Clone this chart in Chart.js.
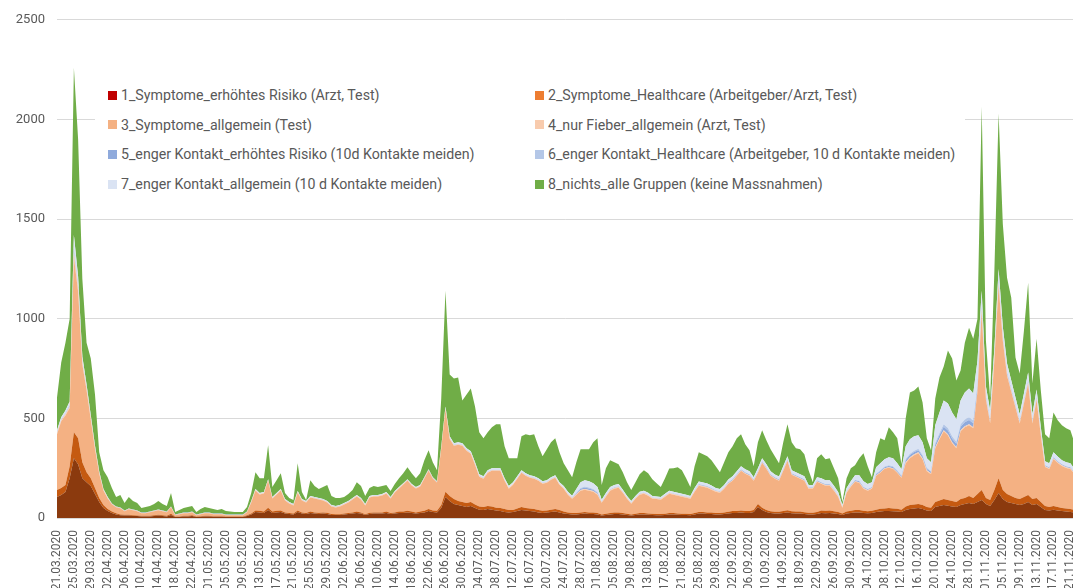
<!DOCTYPE html>
<html lang="de">
<head>
<meta charset="utf-8">
<title>Massnahmen nach Gruppen</title>
<script src="https://cdn.jsdelivr.net/npm/chart.js@4.4.1/dist/chart.umd.min.js"></script>
<style>
    html, body { margin: 0; padding: 0; background: #fff; overflow: hidden; width: 1073px; height: 588px; }
    #wrap { position: absolute; left: 0; top: 0; width: 1093px; height: 600px; }
    #legend {
        position: absolute; left: 95px; top: 76px; width: 870px; height: 126px;
        background: #fff; font-family: Roboto, "Open Sans", sans-serif; font-size: 14.2px; color: #595959;
    }
    .item { position: absolute; display: flex; align-items: center; white-space: nowrap; height: 18px; }
    .swatch { width: 9px; height: 9px; margin-right: 4px; }
</style>
</head>
<body>
<div id="wrap">
    <canvas id="chart" width="1093" height="600"></canvas>
    <div id="legend"></div>
</div>
<script>
// Date ranges of the category axis (gap between 25.04. and 01.05.)
const dateRanges = [['2020-03-21', '2020-04-25'], ['2020-05-01', '2020-11-22']];
const yTicks = [0, 500, 1000, 1500, 2000, 2500];

const seriesNames = [
    '1_Symptome_erhöhtes Risiko (Arzt, Test)',
    '2_Symptome_Healthcare (Arbeitgeber/Arzt, Test)',
    '3_Symptome_allgemein (Test)',
    '4_nur Fieber_allgemein (Arzt, Test)',
    '5_enger Kontakt_erhöhtes Risiko (10d Kontakte meiden)',
    '6_enger Kontakt_Healthcare (Arbeitgeber, 10 d Kontakte meiden)',
    '7_enger Kontakt_allgemein (10 d Kontakte meiden)',
    '8_nichts_alle Gruppen (keine Massnahmen)'
];
const fillColors = ['#8B3A0E', '#C55A11', '#F4B183', '#F8CBAD', '#8FAADC', '#B4C7E7', '#DAE3F3', '#70AD47'];
const legendColors = ['#C00000', '#ED7D31', '#F4B183', '#F8CBAD', '#8FAADC', '#B4C7E7', '#DAE3F3', '#70AD47'];

const s1 = [105,115,130,200,300,270,200,180,160,120,
    80,50,35,25,18,14,12,12,10,10,
    8,8,8,10,12,10,8,15,5,6,
    8,8,10,5,6,8,8,6,6,6,
    5,5,5,5,5,10,18,30,28,25,
    40,25,28,30,22,20,18,30,22,20,
    25,22,20,22,20,15,15,15,18,20,
    22,25,22,15,20,22,22,22,25,20,
    22,25,25,28,25,22,25,28,35,30,
    28,50,105,85,70,65,60,55,60,50,
    42,40,45,42,38,35,30,28,30,35,
    40,38,35,32,28,25,28,30,32,28,
    22,20,18,18,20,22,20,20,18,12,
    15,18,20,20,18,15,12,15,18,18,
    16,15,14,14,15,18,18,16,15,15,
    14,18,22,22,20,20,18,18,20,22,
    25,25,28,25,25,30,55,40,30,25,
    22,22,25,28,24,22,22,20,18,18,
    20,25,24,25,22,20,15,22,25,28,
    28,25,24,25,30,32,35,35,34,32,
    30,40,45,48,50,45,38,35,55,60,
    65,62,58,55,65,70,75,70,80,90,
    70,60,90,125,95,80,75,70,65,70,
    80,65,70,55,40,38,42,38,35,32,
    30,28];

const s2 = [35,35,35,60,130,130,80,50,40,30,
    20,15,10,7,6,4,4,4,4,3,
    3,3,3,4,4,4,3,6,2,2,
    3,3,4,2,3,3,3,3,3,3,
    2,2,2,2,2,4,5,8,8,7,
    12,7,8,8,6,5,5,8,6,5,
    7,6,6,6,6,5,4,4,5,5,
    6,7,6,4,6,6,6,6,7,5,
    6,7,7,8,7,6,7,8,10,8,
    8,15,27,25,25,20,20,20,20,18,
    16,15,15,16,14,15,15,12,10,13,
    15,12,13,13,12,11,10,12,13,12,
    10,8,7,7,8,8,8,8,7,5,
    6,7,8,8,7,6,5,6,7,7,
    6,6,6,6,6,7,7,7,6,6,
    6,7,8,8,8,8,7,7,8,9,
    10,10,10,10,10,10,15,12,10,9,
    9,9,10,11,10,10,10,9,8,8,
    10,13,12,13,12,10,7,10,11,12,
    12,11,10,11,12,14,13,15,14,14,
    12,18,20,20,20,20,17,17,25,28,
    30,28,27,25,30,30,35,30,40,50,
    30,30,50,75,45,40,35,30,30,35,
    35,30,30,25,20,17,18,17,15,16,
    15,12];

const s3 = [280,335,349,292,880,735,490,412,294,196,
    122,73,53,37,30,31,18,28,25,21,
    13,13,18,20,23,20,18,33,7,11,
    13,13,15,7,10,13,13,10,10,10,
    7,7,7,7,7,15,55,100,82,91,
    136,66,82,100,60,48,40,90,60,53,
    71,70,67,60,52,38,34,39,45,53,
    65,76,65,44,77,80,80,85,91,73,
    100,116,136,152,131,120,126,162,193,160,
    142,282,413,287,267,282,282,262,242,199,
    149,142,167,179,185,187,142,107,127,149,
    172,162,154,152,147,136,139,150,157,127,
    115,89,72,92,109,112,109,104,92,60,
    86,112,119,124,102,76,55,76,92,97,
    90,76,75,72,86,97,92,89,86,81,
    77,107,132,127,124,114,107,102,119,141,
    152,177,199,187,177,147,157,225,207,178,
    166,156,202,248,183,175,165,158,121,121,
    152,134,126,124,103,77,30,95,121,142,
    137,111,103,111,170,181,199,202,199,181,
    160,217,235,247,255,230,180,168,270,307,
    340,325,290,270,340,355,355,350,515,900,
    494,385,652,968,750,594,524,454,379,469,
    559,379,494,334,196,191,236,221,211,203,
    201,181];

const s4 = [5,5,6,8,20,15,10,8,6,4,
    3,2,2,1,1,1,1,1,1,1,
    1,1,1,1,1,1,1,1,1,1,
    1,1,1,1,1,1,1,1,1,1,
    1,1,1,1,1,1,2,2,2,2,
    2,2,2,2,2,2,2,2,2,2,
    2,2,2,2,2,2,2,2,2,2,
    2,2,2,2,2,2,2,2,2,2,
    2,2,2,2,2,2,2,2,2,2,
    2,3,5,3,3,3,3,3,3,3,
    3,3,3,3,3,3,3,3,3,3,
    3,3,3,3,3,3,3,3,3,3,
    3,3,3,3,3,3,3,3,3,3,
    3,3,3,3,3,3,3,3,3,3,
    3,3,3,3,3,3,3,3,3,3,
    3,3,3,3,3,3,3,3,3,3,
    3,3,3,3,3,3,3,3,3,3,
    3,3,3,3,3,3,3,3,3,3,
    3,3,3,3,3,3,3,3,3,3,
    3,3,3,3,3,3,3,3,3,3,
    3,5,5,5,5,5,5,5,5,5,
    5,5,5,5,5,5,5,5,5,10,
    6,5,8,12,10,6,6,6,6,6,
    6,6,6,6,4,4,4,4,4,4,
    4,4];

const s5 = [2,2,3,4,12,8,4,3,2,2,
    1,1,1,1,1,1,1,1,1,1,
    1,1,1,1,1,1,1,1,1,1,
    1,1,1,1,1,1,1,1,1,1,
    1,1,1,1,1,1,1,1,1,1,
    1,1,1,1,1,1,1,1,1,1,
    1,1,1,1,1,1,1,1,1,1,
    1,1,1,1,1,1,1,1,1,1,
    1,1,1,1,1,1,1,1,1,1,
    1,1,1,1,1,1,1,1,1,1,
    1,1,1,1,1,1,1,1,1,1,
    1,1,1,1,1,1,1,1,1,1,
    1,2,2,4,7,8,8,7,6,2,
    2,2,2,2,2,1,1,1,2,2,
    2,1,1,1,2,2,2,2,2,2,
    1,2,3,3,3,3,2,2,2,3,
    3,3,3,3,3,2,3,3,3,3,
    3,3,3,3,3,3,3,3,2,2,
    3,3,3,3,3,2,1,2,3,4,
    4,4,4,4,5,5,5,6,6,5,
    5,10,11,11,10,10,7,7,13,16,
    18,19,18,17,18,20,22,20,18,11,
    7,7,6,8,7,7,6,5,5,5,
    6,5,5,4,3,3,4,3,3,3,
    3,2];

const s6 = [2,2,2,3,10,6,3,2,2,1,
    1,1,1,1,1,1,1,1,1,1,
    1,1,1,1,1,1,1,1,1,1,
    1,1,1,1,1,1,1,1,1,1,
    1,1,1,1,1,1,1,1,1,1,
    1,1,1,1,1,1,1,1,1,1,
    1,1,1,1,1,1,1,1,1,1,
    1,1,1,1,1,1,1,1,1,1,
    1,1,1,1,1,1,1,1,1,1,
    1,1,1,1,1,1,1,1,1,1,
    1,1,1,1,1,1,1,1,1,1,
    1,1,1,1,1,1,1,1,1,1,
    1,1,1,3,4,5,5,4,4,1,
    2,2,2,2,1,1,1,1,1,1,
    1,1,1,1,1,1,1,1,1,1,
    1,2,2,2,2,2,2,2,2,2,
    2,2,2,2,2,2,2,2,2,2,
    2,2,2,2,2,2,2,2,2,2,
    2,2,2,2,2,2,1,2,2,2,
    3,3,2,2,3,4,4,4,4,4,
    3,6,7,7,7,6,5,4,9,10,
    12,12,12,11,12,14,14,14,12,7,
    5,5,4,6,5,4,4,4,3,4,
    4,3,4,3,2,2,2,2,2,2,
    2,2];

const s7 = [11,11,15,18,68,46,23,15,11,9,
    6,4,3,1,1,1,1,1,1,1,
    1,1,1,1,1,1,1,1,1,1,
    1,1,1,1,1,1,1,1,1,1,
    1,1,1,1,1,1,3,3,3,3,
    3,3,3,3,3,3,3,3,3,3,
    3,3,3,3,3,3,3,3,3,3,
    3,3,3,3,3,3,3,3,3,3,
    3,3,3,3,3,3,3,3,3,3,
    3,6,8,8,8,8,8,8,8,8,
    8,8,8,8,8,8,8,8,8,8,
    8,8,8,8,8,8,8,8,8,8,
    8,9,9,18,29,32,32,29,25,9,
    11,11,11,11,9,8,8,8,9,9,
    9,8,8,8,9,9,9,9,9,9,
    8,11,13,13,13,13,11,11,11,13,
    15,15,15,15,15,11,15,15,15,15,
    13,13,15,15,15,15,15,15,11,11,
    15,20,20,20,17,16,8,16,20,24,
    28,28,24,24,32,36,36,40,40,36,
    32,64,72,72,68,64,48,44,88,104,
    120,124,120,112,120,136,144,136,120,72,
    48,48,40,56,48,44,40,36,32,36,
    40,32,36,28,20,20,24,23,20,20,
    20,16];

const s8 = [165,275,340,415,840,690,390,210,285,258,
    97,94,100,77,47,62,37,57,42,37,
    22,27,27,32,42,32,27,67,12,17,
    22,27,27,12,22,27,22,22,17,22,
    17,14,12,12,12,22,40,85,75,70,
    170,50,65,80,30,20,20,140,35,5,
    80,55,45,60,80,45,40,35,30,35,
    40,65,60,40,40,45,40,40,35,30,
    35,45,50,60,55,45,60,85,95,75,
    55,242,580,310,325,325,215,270,315,280,
    210,190,190,205,220,220,160,140,120,90,
    170,195,200,210,160,125,155,175,185,150,
    115,108,93,135,165,155,160,205,245,73,
    125,135,115,100,88,70,55,70,88,103,
    98,85,67,50,78,111,118,128,118,83,
    45,110,147,142,137,127,110,85,115,137,
    150,165,160,125,105,55,130,140,120,110,
    92,67,120,160,140,120,125,110,75,15,
    95,120,105,110,88,70,15,50,65,50,
    85,140,90,25,75,125,95,150,130,125,
    25,140,235,230,245,200,100,60,135,175,
    170,265,270,195,150,250,305,275,210,925,
    230,60,390,780,515,430,415,200,205,315,
    450,155,255,185,135,125,200,182,175,170,
    165,130];

// Build dd.mm.yyyy category labels from the date ranges
function buildLabels(ranges) {
    const out = [];
    ranges.forEach(([from, to]) => {
        const d = new Date(from + 'T00:00:00Z');
        const end = new Date(to + 'T00:00:00Z');
        while (d <= end) {
            const dd = String(d.getUTCDate()).padStart(2, '0');
            const mm = String(d.getUTCMonth() + 1).padStart(2, '0');
            out.push(dd + '.' + mm + '.' + d.getUTCFullYear());
            d.setUTCDate(d.getUTCDate() + 1);
        }
    });
    return out;
}

const labels = buildLabels(dateRanges);
const series = [s1, s2, s3, s4, s5, s6, s7, s8];

Chart.defaults.font.family = 'Roboto, "Open Sans", sans-serif';

new Chart(document.getElementById('chart'), {
    type: 'line',
    data: {
        labels: labels,
        datasets: series.map((data, i) => ({
            label: seriesNames[i],
            data: data,
            backgroundColor: fillColors[i],
            borderColor: 'rgba(0,0,0,0)',
            borderWidth: 0,
            pointRadius: 0,
            tension: 0,
            fill: i === 0 ? 'origin' : '-1'
        }))
    },
    options: {
        responsive: false,
        animation: false,
        layout: { padding: { top: 18, left: 0, right: 0, bottom: 0 } },
        plugins: {
            legend: { display: false },
            tooltip: { enabled: false }
        },
        scales: {
            x: {
                grid: { display: false },
                border: { display: false },
                ticks: {
                    autoSkip: false,
                    minRotation: 90,
                    maxRotation: 90,
                    padding: 4,
                    color: '#595959',
                    font: { size: 12 },
                    callback: (v, i) => (i % 4 === 0 ? labels[i] : '')
                },
                afterFit: (scale) => { scale.height = 82; }
            },
            y: {
                stacked: true,
                min: 0,
                max: 2500,
                afterBuildTicks: (axis) => { axis.ticks = yTicks.map(v => ({ value: v })); },
                grid: { color: '#D9D9D9', drawTicks: false },
                border: { display: false },
                ticks: {
                    padding: 12,
                    color: '#595959',
                    font: { size: 13 },
                    callback: (v) => String(v)
                },
                afterFit: (scale) => { scale.width = 57; }
            }
        }
    }
});

// Legend in two columns over a white box inside the plot
const legend = document.getElementById('legend');
seriesNames.forEach((name, i) => {
    const item = document.createElement('div');
    item.className = 'item';
    item.style.left = (i % 2 === 0 ? 13 : 440) + 'px';
    item.style.top = (10 + Math.floor(i / 2) * 29.7) + 'px';
    const sw = document.createElement('span');
    sw.className = 'swatch';
    sw.style.background = legendColors[i];
    const txt = document.createElement('span');
    txt.textContent = name;
    item.appendChild(sw);
    item.appendChild(txt);
    legend.appendChild(item);
});
</script>
</body>
</html>
